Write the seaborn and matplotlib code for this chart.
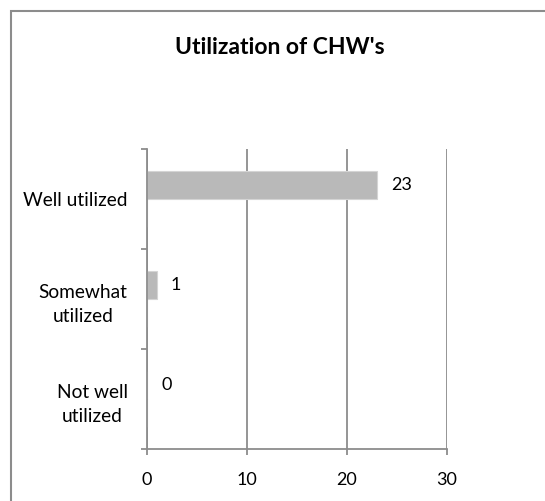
import matplotlib
matplotlib.use("Agg")
import matplotlib.pyplot as plt
import seaborn as sns
import pandas as pd
from matplotlib.patches import Rectangle

categories = ["Well utilized", "Somewhat\nutilized", "Not well\nutilized"]
values = [23, 1, 0]

df = pd.DataFrame({
    "category": categories + categories,
    "value": values + [0, 0, 0],
    "series": ["A"] * 3 + ["B"] * 3,
})

sns.set_theme(style="white")
plt.rcParams['font.family'] = ['Lato', 'DejaVu Sans']

fig = plt.figure(figsize=(5.45, 5.01), dpi=100)
ax = fig.add_axes([147/545, 1 - 449/501, 300/545, 300/501])

sns.barplot(data=df, y="category", x="value", hue="series", order=categories,
            palette=["#b9b9b9", "#b9b9b9"], width=0.56, ax=ax, legend=False,
            edgecolor="#d4d4d4", linewidth=0.8, orient="h")

ax.set_xlim(0, 30)
ax.set_ylim(2.5, -0.5)
ax.set_xticks([0, 10, 20, 30])
ax.set_xticklabels(["0", "10", "20", "30"])
ax.xaxis.grid(True, color="#8c8c8c", linewidth=1.3)
ax.yaxis.grid(False)
ax.set_axisbelow(True)
ax.set_xlabel("")
ax.set_ylabel("")

for s in ["top", "right"]:
    ax.spines[s].set_visible(False)
for s in ["left", "bottom"]:
    ax.spines[s].set_color("#8c8c8c")
    ax.spines[s].set_linewidth(1.3)

ax.set_yticks([0, 1, 2])
ax.set_yticklabels(categories, multialignment="center", linespacing=1.55)
ax.set_yticks([-0.5, 0.5, 1.5, 2.5], minor=True)
ax.tick_params(axis="y", which="major", length=0, pad=14, labelsize=13.8, colors="black")
ax.tick_params(axis="y", which="minor", length=4.5, width=1.3, color="#8c8c8c", left=True, direction="out")
ax.tick_params(axis="x", which="major", length=4.5, width=1.3, color="#8c8c8c", bottom=True,
               direction="out", pad=12, labelsize=13, labelcolor="black")

for i, v in enumerate(values):
    ax.annotate(str(v), xy=(v, i - 0.14), xytext=(14, 0), textcoords="offset pixels",
                ha="left", va="center", fontsize=13, color="black")

fig.text(280/545, 1 - 47/501, "Utilization of CHW's", ha="center", va="center",
         fontsize=16.5, fontweight="bold", color="black")

fig.patches.append(Rectangle((11/545, -0.2), 1.2, 1 - 11/501 + 0.2, transform=fig.transFigure,
                             fill=False, edgecolor="#8c8c8c", linewidth=1.5, figure=fig))

fig.savefig("out.png", dpi=100)
